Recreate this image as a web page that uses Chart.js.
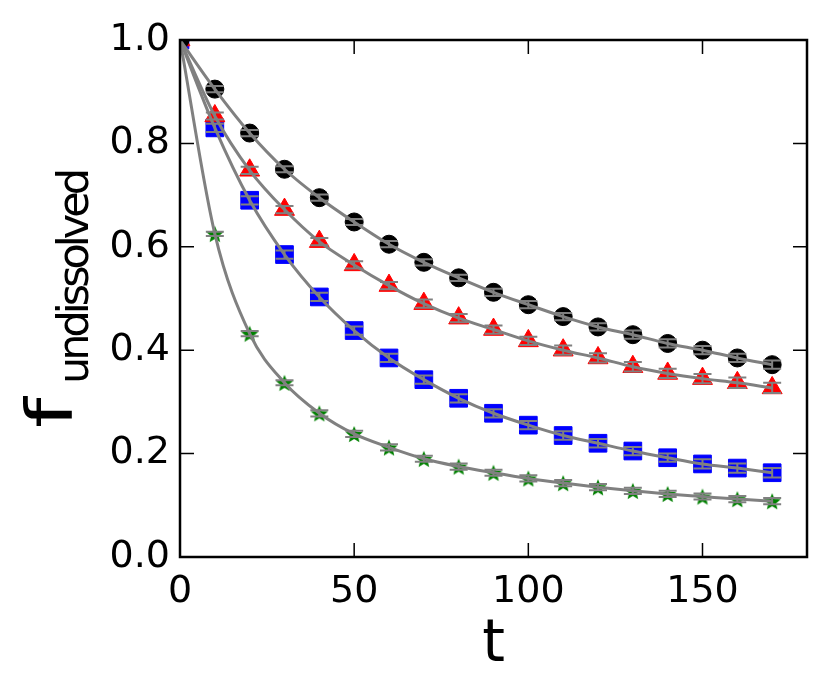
<!DOCTYPE html>
<html>
<head>
<meta charset="utf-8">
<script src="https://cdn.jsdelivr.net/npm/chart.js@4.4.1/dist/chart.umd.min.js"></script>
<style>
  html, body { margin: 0; padding: 0; background: #fff; }
  #wrap { width: 830px; height: 687px; }
</style>
</head>
<body>
<div id="wrap"><canvas id="chart"></canvas></div>
<script>
const times = [0, 10, 20, 30, 40, 50, 60, 70, 80, 90, 100, 110, 120, 130, 140, 150, 160, 170];
const blackVals = [1.0, 0.905, 0.82, 0.75, 0.695, 0.648, 0.605, 0.57, 0.54, 0.512, 0.488, 0.465, 0.445, 0.43, 0.413, 0.4, 0.385, 0.372];
const redVals   = [1.0, 0.853, 0.748, 0.672, 0.61, 0.565, 0.525, 0.49, 0.462, 0.44, 0.418, 0.4, 0.385, 0.368, 0.355, 0.345, 0.337, 0.327];
const blueVals  = [1.0, 0.83, 0.69, 0.585, 0.503, 0.438, 0.385, 0.343, 0.307, 0.278, 0.255, 0.235, 0.22, 0.205, 0.192, 0.18, 0.172, 0.163];
const greenVals = [1.0, 0.625, 0.432, 0.337, 0.278, 0.238, 0.212, 0.19, 0.175, 0.163, 0.152, 0.143, 0.135, 0.128, 0.122, 0.117, 0.112, 0.108];
// error bar half-widths
const blackErr = [0, 0.006, 0.006, 0.006, 0.006, 0.006, 0.006, 0.006, 0.006, 0.007, 0.007, 0.007, 0.007, 0.008, 0.008, 0.008, 0.008, 0.008];
const redErr   = [0, 0.007, 0.007, 0.007, 0.007, 0.007, 0.007, 0.008, 0.008, 0.008, 0.008, 0.009, 0.009, 0.009, 0.009, 0.009, 0.01, 0.01];
const blueErr  = [0, 0.008, 0.008, 0.008, 0.008, 0.008, 0.008, 0.008, 0.008, 0.008, 0.008, 0.008, 0.008, 0.008, 0.008, 0.009, 0.009, 0.009];
const greenErr = [0, 0.004, 0.005, 0.005, 0.006, 0.006, 0.006, 0.006, 0.006, 0.006, 0.006, 0.006, 0.006, 0.006, 0.006, 0.006, 0.006, 0.006];
const xTicks = [0, 50, 100, 150];
const yTicks = [0.0, 0.2, 0.4, 0.6, 0.8, 1.0];

const FONT = "'DejaVu Sans', sans-serif";
const pts = vals => vals.map((v, i) => ({ x: times[i], y: v }));

// filled star marker
function starImage(size, color) {
  const c = document.createElement('canvas');
  c.width = size; c.height = size;
  const g = c.getContext('2d');
  const cx = size / 2, cy = size / 2 + 1, R = size / 2, r = R * 0.45;
  g.beginPath();
  for (let k = 0; k < 10; k++) {
    const rad = k % 2 ? r : R;
    const a = -Math.PI / 2 + k * Math.PI / 5;
    g.lineTo(cx + rad * Math.cos(a), cy + rad * Math.sin(a));
  }
  g.closePath();
  g.fillStyle = color;
  g.fill();
  return c;
}

const series = [
  { vals: blackVals, err: blackErr, color: '#000000', style: 'circle', r: 9 },
  { vals: redVals, err: redErr, color: '#ff0000', style: 'triangle', r: 11.5 },
  { vals: greenVals, err: greenErr, color: '#008000', style: starImage(18, '#008000'), r: 9 },
  { vals: blueVals, err: blueErr, color: '#0000ff', style: 'rect', r: 12.5 }
];

const datasets = [];
series.forEach(s => {
  datasets.push({
    data: pts(s.vals), showLine: false, pointStyle: s.style, pointRadius: s.r,
    pointBackgroundColor: s.color, pointBorderColor: s.color, pointBorderWidth: 1,
    pointHoverRadius: s.r, order: 2, errs: s.err
  });
});
series.forEach(s => {
  datasets.push({
    data: pts(s.vals), showLine: true, pointRadius: 0, borderColor: '#808080',
    borderWidth: 3, cubicInterpolationMode: 'monotone', order: 1
  });
});

// error bars, frame, inward ticks and axis titles
const decor = {
  id: 'decor',
  afterDatasetsDraw(chart) {
    const ctx = chart.ctx, xs = chart.scales.x, ys = chart.scales.y;
    ctx.save();
    ctx.strokeStyle = '#808080';
    ctx.lineWidth = 2;
    chart.data.datasets.forEach(ds => {
      if (!ds.errs) return;
      ds.data.forEach((p, i) => {
        const e = ds.errs[i];
        if (!e) return;
        const px = xs.getPixelForValue(p.x);
        const y1 = ys.getPixelForValue(p.y + e), y2 = ys.getPixelForValue(p.y - e);
        ctx.beginPath();
        ctx.moveTo(px, y1); ctx.lineTo(px, y2);
        ctx.moveTo(px - 9, y1); ctx.lineTo(px + 9, y1);
        ctx.moveTo(px - 9, y2); ctx.lineTo(px + 9, y2);
        ctx.stroke();
      });
    });
    const a = chart.chartArea;
    ctx.strokeStyle = '#000';
    ctx.lineWidth = 1.5;
    ctx.beginPath();
    xTicks.forEach(t => {
      const px = xs.getPixelForValue(t);
      ctx.moveTo(px, a.bottom); ctx.lineTo(px, a.bottom - 14);
      ctx.moveTo(px, a.top); ctx.lineTo(px, a.top + 14);
    });
    yTicks.forEach(t => {
      const py = ys.getPixelForValue(t);
      ctx.moveTo(a.left, py); ctx.lineTo(a.left + 14, py);
      ctx.moveTo(a.right, py); ctx.lineTo(a.right - 14, py);
    });
    ctx.stroke();
    ctx.lineWidth = 2.5;
    ctx.strokeRect(a.left, a.top, a.right - a.left, a.bottom - a.top);
    // axis titles
    ctx.fillStyle = '#000';
    ctx.textAlign = 'center';
    ctx.textBaseline = 'alphabetic';
    ctx.font = '58px ' + FONT;
    ctx.fillText('t', (a.left + a.right) / 2, 661);
    ctx.translate(72, 428);
    ctx.rotate(-Math.PI / 2);
    ctx.textAlign = 'left';
    ctx.save();
    ctx.scale(1.35, 1);
    ctx.font = '64px ' + FONT;
    ctx.fillText('f', 0, 0);
    ctx.restore();
    ctx.font = '43px ' + FONT;
    ctx.letterSpacing = '-4px';
    ctx.fillText('undissolved', 44, 16);
    ctx.restore();
  }
};

new Chart(document.getElementById('chart'), {
  type: 'scatter',
  data: { datasets },
  options: {
    responsive: true,
    maintainAspectRatio: false,
    animation: false,
    layout: { padding: { left: 0, right: 23, top: 40, bottom: 0 } },
    plugins: { legend: { display: false }, tooltip: { enabled: false } },
    scales: {
      x: {
        type: 'linear', min: 0, max: 180,
        afterBuildTicks: sc => { sc.ticks = xTicks.map(v => ({ value: v })); },
        afterFit: sc => { sc.height = 130; },
        grid: { display: false, drawTicks: false },
        border: { display: false },
        ticks: { font: { family: FONT, size: 38 }, color: '#000', padding: 12, maxRotation: 0 }
      },
      y: {
        type: 'linear', min: 0, max: 1,
        afterBuildTicks: sc => { sc.ticks = yTicks.map(v => ({ value: v })); },
        afterFit: sc => { sc.width = 180; },
        grid: { display: false, drawTicks: false },
        border: { display: false },
        ticks: { font: { family: FONT, size: 38 }, color: '#000', padding: 10, callback: v => v.toFixed(1) }
      }
    }
  },
  plugins: [decor]
});
</script>
</body>
</html>
